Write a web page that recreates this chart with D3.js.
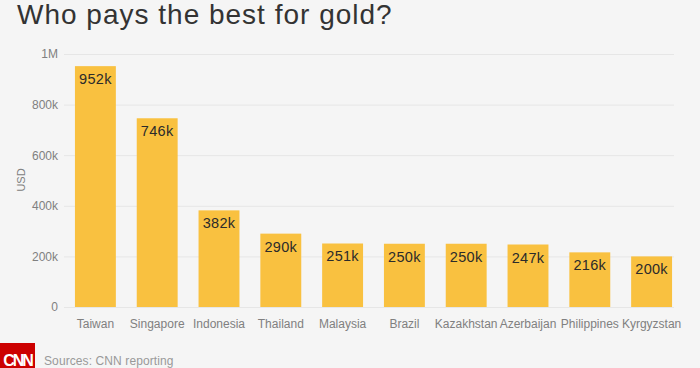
<!DOCTYPE html>
<html><head><meta charset="utf-8">
<script src="https://cdn.jsdelivr.net/npm/d3@7"></script>
<style>
html,body{margin:0;padding:0;background:#f5f5f5;}
svg{display:block;font-family:"Liberation Sans",Arial,sans-serif;}
</style></head>
<body>
<svg id="chart" width="700" height="368"></svg>
<script>
const categories = ["Taiwan","Singapore","Indonesia","Thailand","Malaysia","Brazil","Kazakhstan","Azerbaijan","Philippines","Kyrgyzstan"];
const values = [952000,746000,382000,290000,251000,250000,250000,247000,216000,200000];
const valueLabels = ["952k","746k","382k","290k","251k","250k","250k","247k","216k","200k"];
const yTicks = [0,200000,400000,600000,800000,1000000];
const yTickLabels = ["0","200k","400k","600k","800k","1M"];
const title = "Who pays the best for gold?";
const yTitle = "USD";
const source = "Sources: CNN reporting";

const svg = d3.select("#chart");
svg.append("rect").attr("width",700).attr("height",368).attr("fill","#f5f5f5");

const y = d3.scaleLinear().domain([0,1000000]).range([307,54]);
const x = d3.scaleBand().domain(categories).range([64.5,682.5]).paddingInner(0.338).paddingOuter(0.169);

// title
svg.append("text").attr("x",17).attr("y",24).attr("font-size",28).attr("letter-spacing",1)
  .attr("fill","#333").text(title);

// gridlines
const gridAxis = d3.axisLeft(y).tickValues(yTicks).tickSize(-(674-64)).tickFormat((d,i)=>yTickLabels[i]).tickPadding(6);
const g = svg.append("g").attr("transform","translate(64,0)").call(gridAxis);
g.select(".domain").remove();
g.selectAll(".tick line").attr("stroke","#e6e6e6").attr("stroke-width",1);
g.selectAll(".tick text").attr("fill","#808080").attr("font-size",12).attr("font-family","Liberation Sans, Arial, sans-serif");

// y title
svg.append("text").attr("transform","translate(25,180) rotate(-90)").attr("text-anchor","middle")
  .attr("font-size",11).attr("fill","#808080").text(yTitle);

// bars
svg.selectAll("rect.bar").data(categories).enter().append("rect").attr("class","bar")
  .attr("x",d=>x(d)).attr("width",x.bandwidth())
  .attr("y",(d,i)=>y(values[i])).attr("height",(d,i)=>y(0)-y(values[i]))
  .attr("fill","#f9c140");

// value labels
svg.selectAll("text.val").data(categories).enter().append("text").attr("class","val")
  .attr("x",d=>x(d)+x.bandwidth()/2).attr("y",(d,i)=>y(values[i])+18)
  .attr("text-anchor","middle").attr("font-size",14.5).attr("letter-spacing",0.3)
  .attr("fill","#2b2b2b").text((d,i)=>valueLabels[i]);

// x axis labels
const xAxis = d3.axisBottom(x).tickSize(0).tickPadding(12);
const gx = svg.append("g").attr("transform","translate(0,307)").call(xAxis);
gx.select(".domain").remove();
gx.selectAll(".tick text").attr("fill","#808080").attr("font-size",12).attr("font-family","Liberation Sans, Arial, sans-serif");

// footer
svg.append("rect").attr("x",0).attr("y",343).attr("width",35).attr("height",25).attr("fill","#cc0000");
svg.append("text").attr("x",17.5).attr("y",366).attr("text-anchor","middle").attr("font-size",16)
  .attr("font-weight","bold").attr("letter-spacing",-2).attr("fill","#fff").text("CNN");
svg.append("text").attr("x",44).attr("y",365).attr("font-size",12).attr("letter-spacing",0.1)
  .attr("fill","#999").text(source);
</script>
</body></html>
